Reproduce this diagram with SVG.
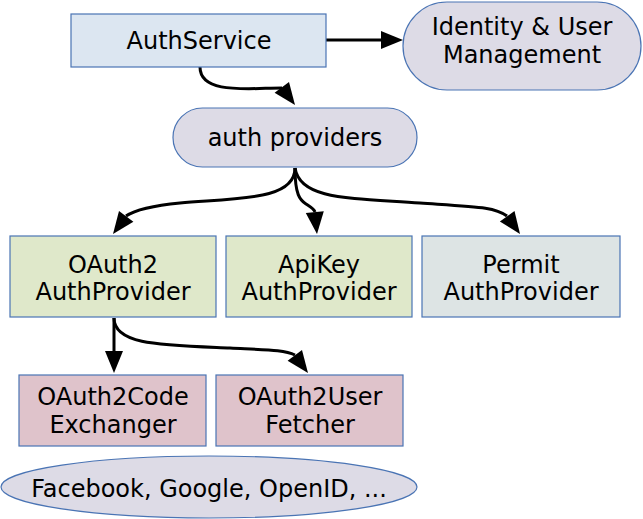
<svg xmlns="http://www.w3.org/2000/svg" width="643" height="519" viewBox="0 0 643 519">
<defs>
<style>
.n{stroke:#4a74b4;stroke-width:1.2}
.blue{fill:#dce6f1}
.lav{fill:#dddbe6}
.grn{fill:#dfe8ca}
.gry{fill:#dde4e4}
.pnk{fill:#dfc3cb}
text{font-family:"DejaVu Sans","Noto Sans",sans-serif;font-size:24px;fill:#000;text-anchor:middle}
.e{fill:none;stroke:#000;stroke-width:3}
.h{fill:#000;stroke:none}
</style>
</defs>
<g id="connectors">
<path class="e" d="M326,40 L382,40"/>
<path class="h" d="M381,31 L403,40 L381,49 z"/>
<path class="e" d="M200,67 C200,95 250,88 282,88"/>
<path class="h" d="M289,82 L295,105 L274.6,92.8 z"/>
<path class="e" d="M295,168 C295,200 240,198 180,203 C150,206 135,210 126,216"/>
<path class="h" d="M133.4,221.8 L113,234 L119,211 z"/>
<path class="e" d="M295,168 C295,195 300,200 306,204 C312,208 314,209 315,212"/>
<path class="h" d="M323.8,211.2 L317,234 L305.8,213 z"/>
<path class="e" d="M295,168 C300,200 350,198 420,203 C480,207 495,207 507,216"/>
<path class="h" d="M514.5,211 L520,234 L499.9,221.4 z"/>
<path class="e" d="M114,318 L114,352"/>
<path class="h" d="M105,351 L114,373 L123,351 z"/>
<path class="e" d="M114,318 C114,345 160,345 230,348 C270,350 285,350 295,355"/>
<path class="h" d="M302,350 L308,373 L287.6,360.8 z"/>
</g>
<g id="authservice"><rect class="n blue" x="71" y="14" width="255" height="53"/><text x="199" y="49">AuthService</text></g>
<g id="identity"><rect class="n lav" x="403" y="2" width="238" height="88" rx="44"/><text x="522" y="35">Identity &amp; User</text><text x="522" y="63">Management</text></g>
<g id="providers"><rect class="n lav" x="173" y="108" width="244" height="59" rx="29.5"/><text x="295" y="146">auth providers</text></g>
<g id="oauth2"><rect class="n grn" x="10" y="236" width="206" height="81"/><text x="113" y="273">OAuth2</text><text x="113" y="300">AuthProvider</text></g>
<g id="apikey"><rect class="n grn" x="226" y="236" width="186" height="81"/><text x="319" y="273">ApiKey</text><text x="319" y="300">AuthProvider</text></g>
<g id="permit"><rect class="n gry" x="422" y="236" width="198" height="81"/><text x="521" y="273">Permit</text><text x="521" y="300">AuthProvider</text></g>
<g id="codeexchanger"><rect class="n pnk" x="19" y="375" width="187" height="71"/><text x="113" y="405">OAuth2Code</text><text x="113" y="433">Exchanger</text></g>
<g id="userfetcher"><rect class="n pnk" x="216" y="375" width="187" height="71"/><text x="310" y="405">OAuth2User</text><text x="310" y="433">Fetcher</text></g>
<g id="idps"><ellipse class="n lav" cx="209" cy="487" rx="208" ry="31"/><text x="209" y="497">Facebook, Google, OpenID, ...</text></g>
</svg>
